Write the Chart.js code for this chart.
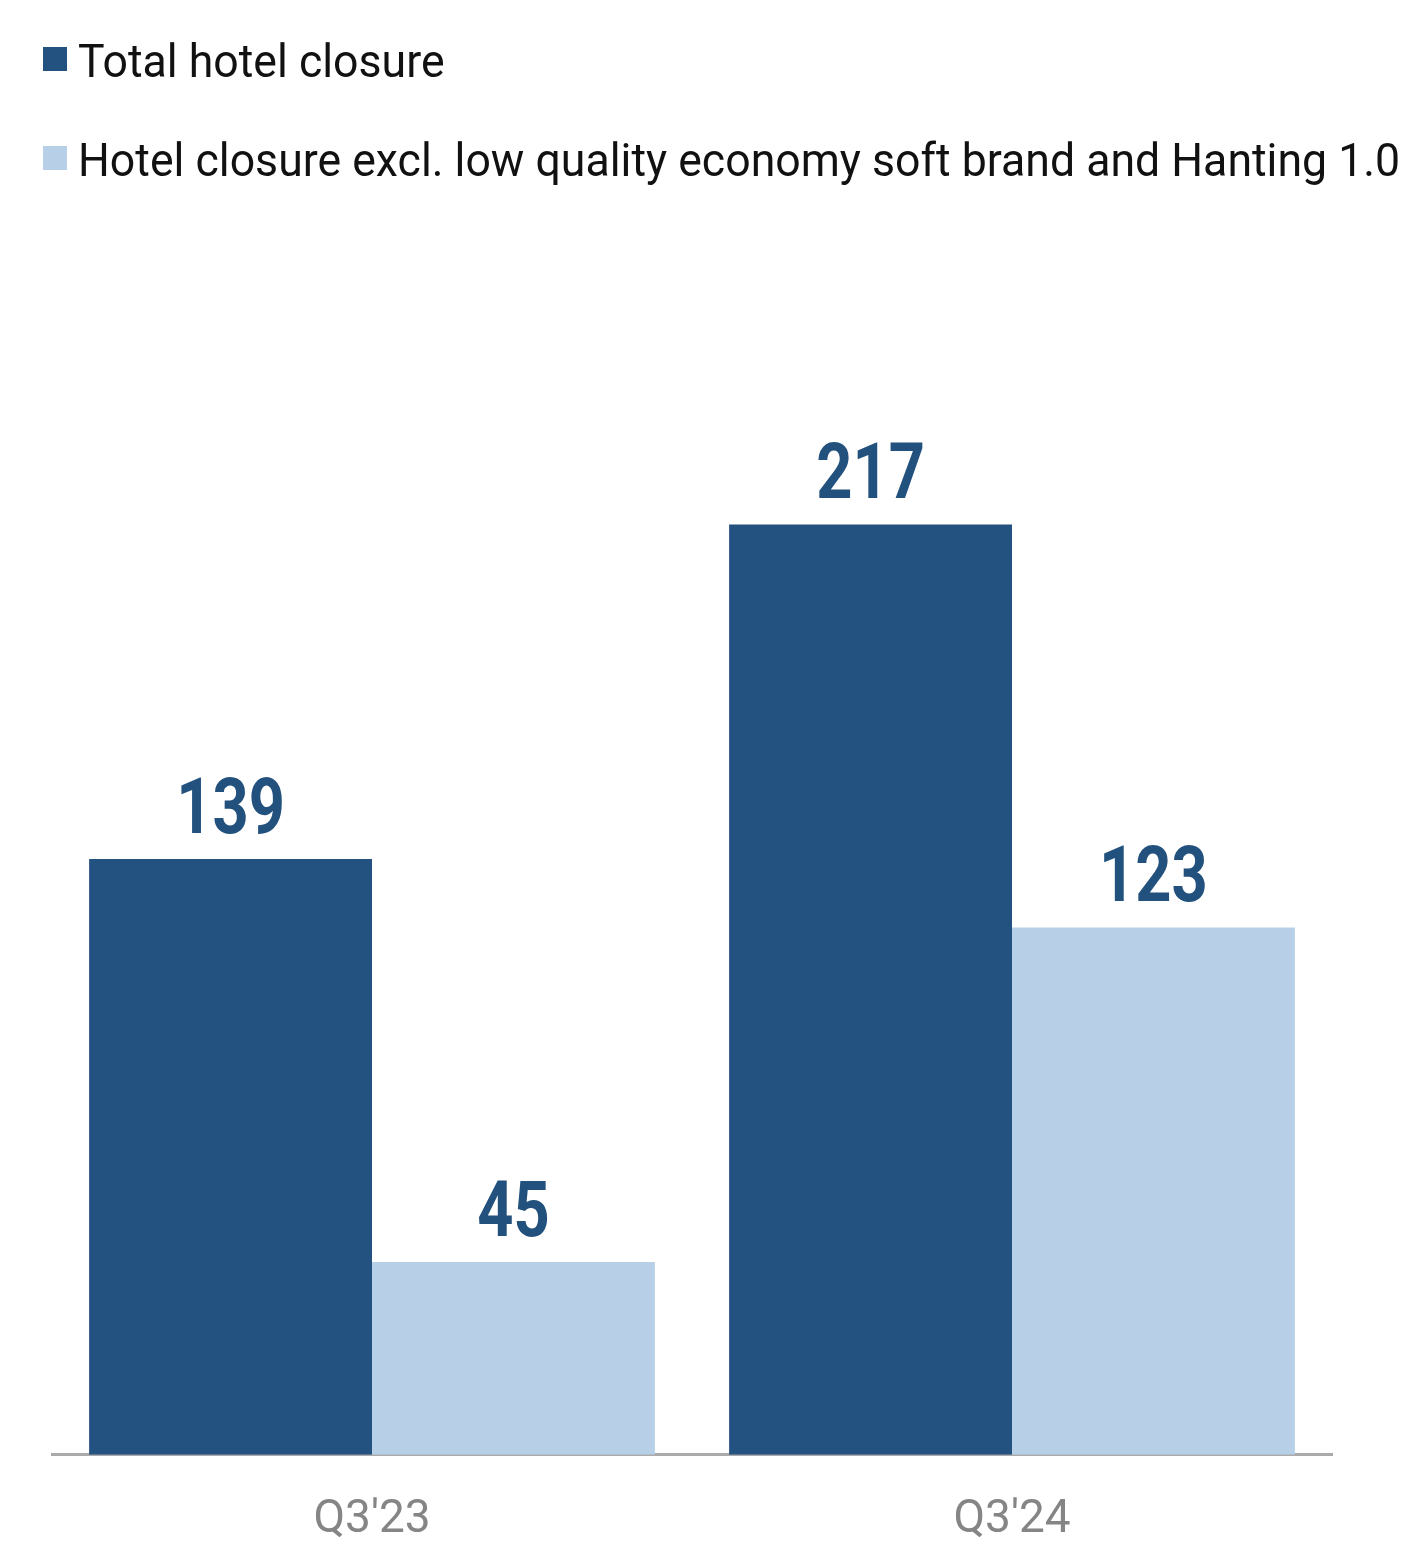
<!DOCTYPE html>
<html>
<head>
<meta charset="utf-8">
<script src="https://cdn.jsdelivr.net/npm/chart.js@4.4.1/dist/chart.umd.min.js"></script>
<style>
  html, body { margin: 0; padding: 0; background: #fff; overflow: hidden; }
  #wrap { position: relative; width: 1409px; height: 1557px; }
  #chart { position: absolute; left: 0; top: 0; }
  .legend-item { position: absolute; left: 0; height: 60px; }
  .legend-item .box { position: absolute; left: 43px; width: 24px; height: 24px; }
  .legend-item .label {
    position: absolute; left: 78px; white-space: nowrap;
    font-family: Roboto, sans-serif; font-size: 46px; line-height: 46px;
    color: #111; transform: scaleX(0.97); transform-origin: left center;
  }
</style>
</head>
<body>
<div id="wrap">
  <canvas id="chart" width="1409" height="1557"></canvas>
  <div id="legend"></div>
</div>
<script>
const categories = ["Q3'23", "Q3'24"];
const totalClosure = [139, 217];
const exclClosure = [45, 123];
const seriesNames = [
  "Total hotel closure",
  "Hotel closure excl. low quality economy soft brand and Hanting 1.0"
];
const seriesColors = ["#235180", "#b7d0e7"];

// legend drawn as html rows above the canvas
const legendTops = [47, 146];
const legendEl = document.getElementById("legend");
seriesNames.forEach((name, i) => {
  legendEl.innerHTML += `
    <div class="legend-item" style="top:${legendTops[i]}px">
      <div class="box" style="top:0;background:${seriesColors[i]}"></div>
      <div class="label" style="top:-9px">${name}</div>
    </div>`;
});

// value labels above each bar (bold, squeezed to look condensed)
const barValues = {
  id: "barValues",
  afterDatasetsDraw(chart) {
    const ctx = chart.ctx;
    chart.data.datasets.forEach((ds, i) => {
      const meta = chart.getDatasetMeta(i);
      meta.data.forEach((bar, j) => {
        ctx.save();
        ctx.translate(bar.x, bar.y - 26);
        ctx.scale(0.81, 1);
        ctx.font = "bold 78px Roboto, sans-serif";
        ctx.fillStyle = "#23517e";
        ctx.textAlign = "center";
        ctx.textBaseline = "alphabetic";
        ctx.fillText(ds.data[j], 0, 0);
        ctx.restore();
      });
    });
  }
};

new Chart(document.getElementById("chart"), {
  type: "bar",
  data: {
    labels: categories,
    datasets: [
      { label: seriesNames[0], data: totalClosure, backgroundColor: seriesColors[0] },
      { label: seriesNames[1], data: exclClosure, backgroundColor: seriesColors[1] }
    ]
  },
  options: {
    responsive: false,
    animation: false,
    layout: { padding: { left: 52, right: 77, top: 383, bottom: -29 } },
    datasets: { bar: { barPercentage: 1, categoryPercentage: 0.884 } },
    scales: {
      x: {
        grid: { display: false, drawTicks: false },
        border: { display: true, color: "#aaaaaa", width: 3 },
        ticks: {
          color: "#858585",
          padding: 38,
          font: { family: "Roboto", size: 46 }
        }
      },
      y: { display: false, min: 0, max: 250 }
    },
    plugins: {
      legend: { display: false },
      tooltip: { enabled: false }
    }
  },
  plugins: [barValues]
});
</script>
</body>
</html>
